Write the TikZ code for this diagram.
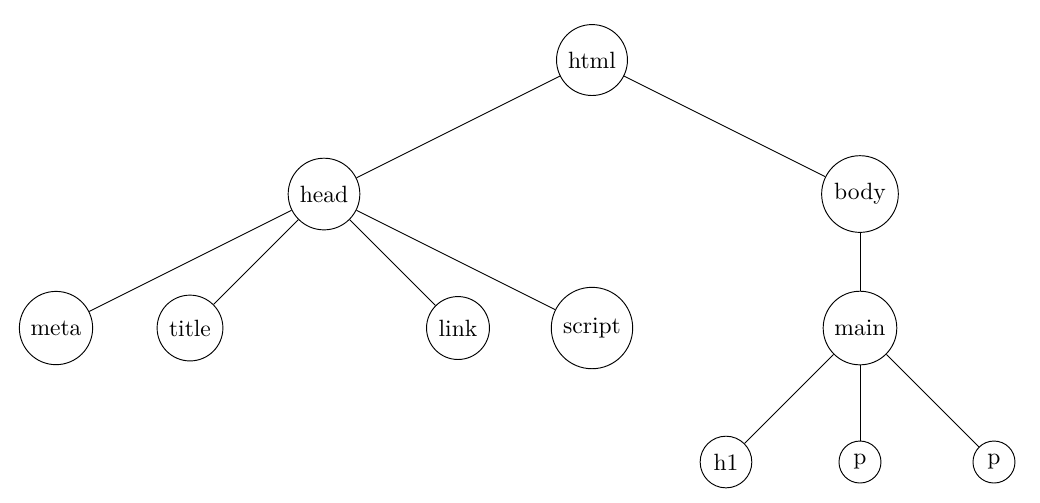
\documentclass[tikz,border=0pt]{standalone}
\usepackage{tikz}

\begin{document}
\begin{tikzpicture}[
    tag/.style={draw, circle},
]
\useasboundingbox (-0.836,0.896) rectangle (14.687,-6.611);
\node[tag] (html) at (8,0) {html};
\node[tag] (head) at (4,-2) {head};
\node[tag] (body) at (12,-2) {body};
\node[tag] (meta) at (0,-4) {meta};
\node[tag] (title) at (2,-4) {title};
\node[tag] (link) at (6,-4) {link};
\node[tag] (script) at (8,-4) {script};
\node[tag] (main) at (12,-4) {main};
\node[tag] (hone) at (10,-6) {h1};
\node[tag] (pone) at (12,-6) {p};
\node[tag] (ptwo) at (14,-6) {p};
\draw (html) -- (head);
\draw (html) -- (body);
\draw (head) -- (meta);
\draw (head) -- (title);
\draw (head) -- (link);
\draw (head) -- (script);
\draw (body) -- (main);
\draw (main) -- (hone);
\draw (main) -- (pone);
\draw (main) -- (ptwo);
\end{tikzpicture}
\end{document}
